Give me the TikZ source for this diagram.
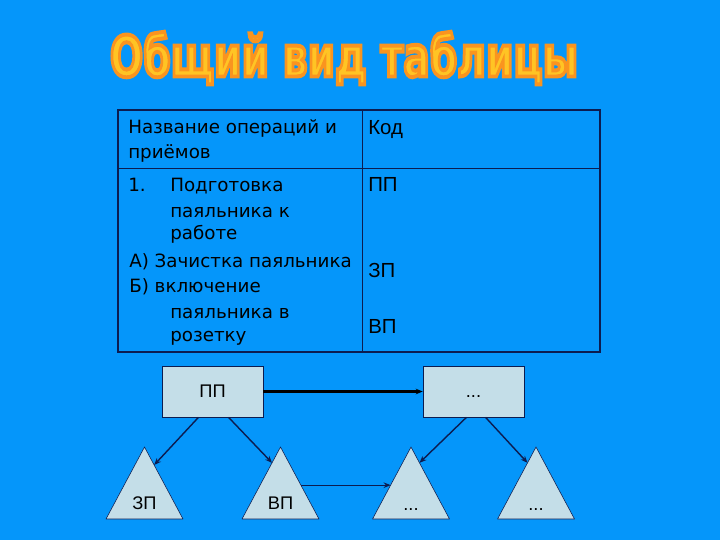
\documentclass[tikz,border=0pt]{standalone}
\usepackage{fontspec}
\setmainfont{DejaVu Sans}
\newfontfamily\arialfont{Liberation Sans}
\usetikzlibrary{calc,arrows.meta}

\definecolor{bg}{RGB}{5,150,250}
\definecolor{boxfill}{RGB}{196,222,232}
\definecolor{navy}{RGB}{12,28,80}
\definecolor{titleyellow}{RGB}{255,196,36}
\newcommand{\outlined}[1]{\special{pdf:literal direct 0.98 0.58 0.12 RG 2 Tr 0.7 w}#1\special{pdf:literal direct 0 Tr}}

\tikzset{
  cell/.style={anchor=base west, inner sep=0pt, font=\fontsize{13}{15}\selectfont},
  code/.style={anchor=base west, inner sep=0pt, font=\arialfont\fontsize{14.5}{16}\selectfont},
  box/.style={draw=navy, fill=boxfill, minimum width=2.525cm, minimum height=1.275cm,
    text height=9pt, text depth=0pt, font=\arialfont\fontsize{13}{15}\selectfont},
  tri/.style={draw=navy, fill=boxfill, line join=round},
  lbl/.style={anchor=base, inner sep=0pt, font=\arialfont\fontsize{13}{15}\selectfont},
  conn/.style={draw=navy, line width=1pt, -{Stealth[length=5pt,width=4pt]}},
}

\begin{document}
\begin{tikzpicture}[x=0.025cm,y=-0.025cm]
    \useasboundingbox (0,0) rectangle (720,540);
    \fill[bg] (0,0) rectangle (720,540);
    \node (title) at (344,58) {\resizebox{11.7cm}{1.12cm}{\bfseries\color{titleyellow}\outlined{Общий вид таблицы}}};
    % table
    \draw[navy, line width=1.5pt] (118,110) rectangle (600,352);
    \draw[navy] (362,110) -- (362,352);
    \draw[navy] (118,168) -- (600,168);
    \node[cell] (head1) at (128,133) {Название операций и};
    \node[cell] (head2) at (128,158) {приёмов};
    \node[code] (headcode) at (368,134) {Код};
    \node[cell] (num) at (128,191) {1.};
    \node[cell] (op1) at (170,191) {Подготовка};
    \node[cell] (op2) at (170,217) {паяльника к};
    \node[cell] (op3) at (170,239) {работе};
    \node[cell] (opa) at (129,267) {А) Зачистка паяльника};
    \node[cell] (opb1) at (129,292) {Б) включение};
    \node[cell] (opb2) at (170,318) {паяльника в};
    \node[cell] (opb3) at (170,341) {розетку};
    \node[code] (code1) at (368,191) {ПП};
    \node[code] (code2) at (368,277) {ЗП};
    \node[code] (code3) at (368,333) {ВП};
    % scheme
    \node[box] (pp) at (212.5,391.5) {ПП};
    \node[box] (etc) at (473.5,391.5) {...};
    \coordinate (zptop) at (144.5,447);
    \coordinate (zpleft) at (106,519);
    \coordinate (zpright) at (183,519);
    \coordinate (vptop) at (280.5,447);
    \coordinate (vpleft) at (242,519);
    \coordinate (vpright) at (319,519);
    \coordinate (datop) at (411,447);
    \coordinate (daleft) at (372.5,519);
    \coordinate (daright) at (449.5,519);
    \coordinate (dbtop) at (536,447);
    \coordinate (dbleft) at (497.5,519);
    \coordinate (dbright) at (574.5,519);
    \draw[tri] (zptop) -- (zpleft) -- (zpright) -- cycle;
    \draw[tri] (vptop) -- (vpleft) -- (vpright) -- cycle;
    \draw[tri] (datop) -- (daleft) -- (daright) -- cycle;
    \draw[tri] (dbtop) -- (dbleft) -- (dbright) -- cycle;
    \node[lbl] (zp) at (144.5,509) {ЗП};
    \node[lbl] (vp) at (280.5,509) {ВП};
    \node[lbl] (da) at (411,510) {...};
    \node[lbl] (db) at (536,510) {...};
    \draw[line width=1.5pt, -{Stealth[length=5pt,width=4pt]}] (pp) -- (etc);
    \draw[conn] ($(pp.south)+(-14,0)$) -- ($(zptop)!0.25!(zpright)$);
    \draw[conn] ($(pp.south)+(16,0)$) -- ($(vptop)!0.22!(vpleft)$);
    \draw[conn] ($(etc.south)+(-7,0)$) -- ($(datop)!0.22!(daright)$);
    \draw[conn] ($(etc.south)+(12,0)$) -- ($(dbtop)!0.22!(dbleft)$);
    \draw[conn, line width=0.7pt] ($(vptop)!0.53!(vpright)$) -- ($(datop)!0.53!(daleft)$);
\end{tikzpicture}
\end{document}
